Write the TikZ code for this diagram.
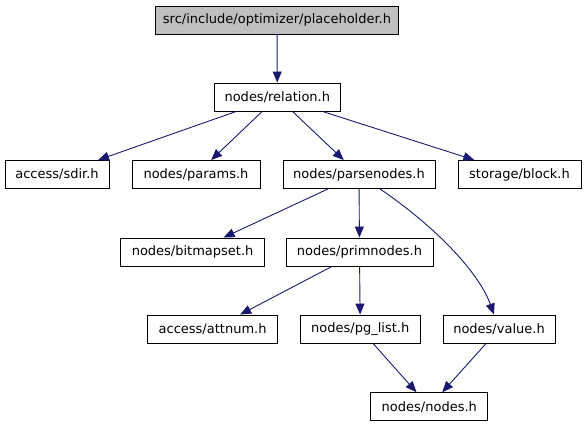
\documentclass[tikz,border=0pt]{standalone}
\usepackage{fontspec}
\setmainfont{DejaVu Sans}
\usepackage{xcolor}
\usepackage{tikz}
\usetikzlibrary{arrows.meta}
\definecolor{edgeblue}{RGB}{25,25,112}
\definecolor{topgray}{RGB}{191,191,191}

\begin{document}
\begin{tikzpicture}[x=1pt,y=-1pt,
    file/.style={rectangle,draw,line width=0.9pt,minimum height=28pt,inner sep=0pt,font=\fontsize{13}{15}\selectfont},
    dep/.style={-{Triangle[length=11pt,width=9pt]},line width=0.9pt,draw=edgeblue}]
    \useasboundingbox (0,0) rectangle (584,427);

    % Top file
    \node[file,fill=topgray,minimum width=243pt] (top) at (277,20) {src/include/optimizer/placeholder.h};

    % Level 1
    \node[file,minimum width=126pt] (relation) at (277.3,97) {nodes/relation.h};

    % Level 2
    \node[file,minimum width=104pt] (sdir) at (57,174.5) {access/sdir.h};
    \node[file,minimum width=128pt] (params) at (196,174.5) {nodes/params.h};
    \node[file,minimum width=152pt] (parsenodes) at (359,174.5) {nodes/parsenodes.h};
    \node[file,minimum width=123pt] (block) at (519.5,174.5) {storage/block.h};

    % Level 3
    \node[file,minimum width=144pt] (bitmapset) at (192.6,252) {nodes/bitmapset.h};
    \node[file,minimum width=147pt] (primnodes) at (359.5,252) {nodes/primnodes.h};

    % Level 4
    \node[file,minimum width=130pt] (attnum) at (212.6,329) {access/attnum.h};
    \node[file,minimum width=120pt] (pglist) at (360.2,329) {nodes/pg\_list.h};
    \node[file,minimum width=112pt] (value) at (499,329) {nodes/value.h};

    % Level 5
    \node[file,minimum width=117pt] (nodes) at (429.3,406.7) {nodes/nodes.h};

    % Arrows
    \foreach \i/\j in {top/relation, relation/sdir, relation/params, relation/parsenodes, relation/block,
                       parsenodes/bitmapset, parsenodes/primnodes, primnodes/attnum, primnodes/pglist,
                       pglist/nodes, value/nodes} {
        \draw[dep] (\i) -- (\j);
    }
    \draw[dep] (parsenodes) .. controls (440,230) and (480,275) .. (value);
\end{tikzpicture}
\end{document}
